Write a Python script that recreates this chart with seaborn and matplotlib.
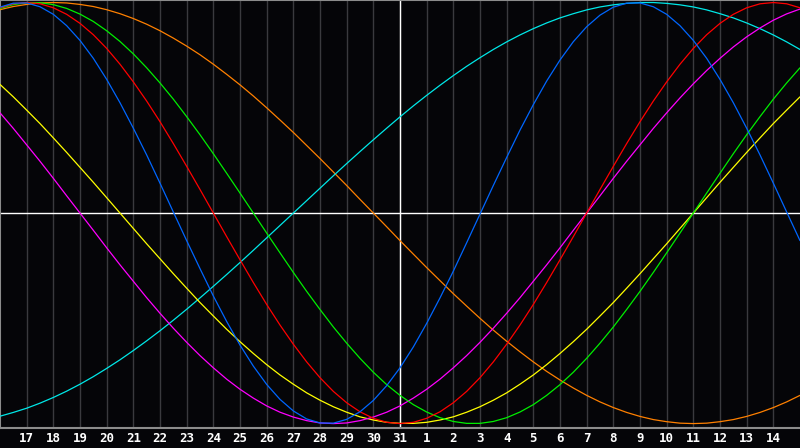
import numpy as np
import pandas as pd
import matplotlib
matplotlib.use('Agg')
import matplotlib.pyplot as plt
import seaborn as sns

# half-day steps around the centre day (31), from -15 to +15 days
offsets = np.linspace(-15, 15, 61)
label_pos = list(range(-14, 15))
day_labels = ['17', '18', '19', '20', '21', '22', '23', '24', '25', '26', '27', '28', '29', '30',
              '31', '1', '2', '3', '4', '5', '6', '7', '8', '9', '10', '11', '12', '13', '14']

# values every half day (-1 .. 1)
physical = [0.978, 0.997, 0.998, 0.980, 0.944, 0.890, 0.820, 0.735, 0.635, 0.524, 0.403, 0.276, 0.142, 0.005,
            -0.131, -0.264, -0.394, -0.515, -0.627, -0.727, -0.814, -0.885, -0.940, -0.978, -0.997, -0.998,
            -0.980, -0.944, -0.890, -0.820, -0.735, -0.636, -0.524, -0.403, -0.276, -0.141, -0.005, 0.131,
            0.264, 0.394, 0.515, 0.627, 0.727, 0.814, 0.885, 0.940, 0.978, 0.997, 0.998, 0.980, 0.944, 0.890,
            0.820, 0.735, 0.635, 0.524, 0.403, 0.276, 0.142, 0.005, -0.131]
emotional = [0.975, 0.994, 1.000, 0.994, 0.975, 0.944, 0.901, 0.847, 0.782, 0.707, 0.623, 0.532, 0.434, 0.330,
             0.222, 0.112, 0.000, -0.112, -0.222, -0.330, -0.434, -0.532, -0.623, -0.707, -0.782, -0.847, -0.901,
             -0.944, -0.975, -0.994, -1.000, -0.994, -0.975, -0.944, -0.901, -0.847, -0.782, -0.707, -0.623,
             -0.532, -0.434, -0.330, -0.222, -0.112, 0.000, 0.112, 0.222, 0.330, 0.434, 0.532, 0.623, 0.707,
             0.782, 0.847, 0.901, 0.944, 0.975, 0.994, 1.000, 0.994, 0.975]
intellectual = [0.972, 0.990, 0.999, 0.999, 0.990, 0.972, 0.945, 0.910, 0.866, 0.815, 0.756, 0.690, 0.618, 0.541,
                0.458, 0.372, 0.282, 0.189, 0.095, 0.000, -0.095, -0.189, -0.282, -0.372, -0.458, -0.541, -0.618,
                -0.690, -0.756, -0.815, -0.866, -0.910, -0.945, -0.972, -0.990, -0.999, -0.999, -0.990, -0.972,
                -0.945, -0.910, -0.866, -0.815, -0.756, -0.690, -0.618, -0.541, -0.458, -0.372, -0.282, -0.189,
                -0.095, 0.000, 0.095, 0.189, 0.282, 0.372, 0.458, 0.541, 0.618, 0.690]
awareness = [0.966, 0.981, 0.991, 0.998, 1.000, 0.998, 0.991, 0.981, 0.966, 0.947, 0.924, 0.897, 0.866, 0.831,
             0.793, 0.752, 0.707, 0.659, 0.609, 0.556, 0.500, 0.442, 0.383, 0.321, 0.259, 0.195, 0.131, 0.065,
             0.000, -0.065, -0.131, -0.195, -0.259, -0.321, -0.383, -0.442, -0.500, -0.556, -0.609, -0.659,
             -0.707, -0.752, -0.793, -0.831, -0.866, -0.897, -0.924, -0.947, -0.966, -0.981, -0.991, -0.998,
             -1.000, -0.998, -0.991, -0.981, -0.966, -0.947, -0.924, -0.897, -0.866]
spiritual = [-0.965, -0.947, -0.927, -0.903, -0.876, -0.846, -0.813, -0.777, -0.738, -0.697, -0.653, -0.607,
             -0.559, -0.509, -0.457, -0.403, -0.348, -0.292, -0.235, -0.177, -0.118, -0.059, 0.000, 0.059, 0.118,
             0.177, 0.235, 0.292, 0.348, 0.403, 0.457, 0.509, 0.559, 0.607, 0.653, 0.697, 0.738, 0.777, 0.813,
             0.846, 0.876, 0.903, 0.927, 0.947, 0.965, 0.979, 0.989, 0.996, 1.000, 1.000, 0.996, 0.989, 0.979,
             0.965, 0.947, 0.927, 0.903, 0.876, 0.846, 0.813, 0.777]
aesthetic = [0.611, 0.552, 0.489, 0.425, 0.357, 0.288, 0.217, 0.146, 0.073, 0.000, -0.073, -0.146, -0.217, -0.288,
             -0.357, -0.425, -0.489, -0.552, -0.611, -0.667, -0.720, -0.769, -0.813, -0.854, -0.889, -0.920,
             -0.946, -0.968, -0.983, -0.994, -0.999, -0.999, -0.994, -0.983, -0.968, -0.946, -0.920, -0.889,
             -0.854, -0.813, -0.769, -0.720, -0.667, -0.611, -0.552, -0.489, -0.425, -0.357, -0.288, -0.217,
             -0.146, -0.073, 0.000, 0.073, 0.146, 0.217, 0.288, 0.357, 0.425, 0.489, 0.552]
intuitive = [0.476, 0.402, 0.324, 0.246, 0.165, 0.082, 0.000, -0.082, -0.165, -0.246, -0.324, -0.402, -0.476,
             -0.547, -0.614, -0.677, -0.735, -0.789, -0.837, -0.879, -0.916, -0.946, -0.969, -0.986, -0.997,
             -1.000, -0.997, -0.986, -0.969, -0.946, -0.916, -0.879, -0.837, -0.789, -0.735, -0.677, -0.614,
             -0.547, -0.476, -0.402, -0.324, -0.246, -0.165, -0.082, 0.000, 0.082, 0.165, 0.246, 0.324, 0.402,
             0.476, 0.547, 0.614, 0.677, 0.735, 0.789, 0.837, 0.879, 0.916, 0.946, 0.969]

series = [
    (awareness, '#ff8000'),
    (spiritual, '#00e8e8'),
    (aesthetic, '#ffff00'),
    (intuitive, '#ff00ff'),
    (intellectual, '#00ee00'),
    (emotional, '#ff0000'),
    (physical, '#0066ff'),
]

sns.set_style('dark')
bg = '#050508'
fig = plt.figure(figsize=(8, 4.48), dpi=100, facecolor=bg)
ax = fig.add_axes([0, 20 / 448, 1, 428 / 448])
ax.set_facecolor(bg)

for vals, col in series:
    df = pd.DataFrame({'day': offsets, 'value': vals})
    sns.lineplot(data=df, x='day', y='value', color=col, linewidth=0.9, ax=ax, zorder=3)

ax.axhline(0, color='white', linewidth=1, zorder=2)
ax.axvline(0, color='white', linewidth=1, zorder=2)

ax.set_xticks(label_pos)
ax.set_xticklabels(day_labels, color='white', fontsize=9, fontweight='bold', family='DejaVu Sans Mono')
ax.set_yticks([])
ax.tick_params(axis='x', length=0, pad=3)
ax.grid(axis='x', color='#3a3a3e', linewidth=1, zorder=1)
ax.grid(axis='y', visible=False)
ax.set_xlabel('')
ax.set_ylabel('')
ax.set_xlim(offsets[0], offsets[-1])
ax.set_ylim(-1.021, 1.012)

for side in ['left', 'top', 'bottom']:
    ax.spines[side].set_visible(True)
    ax.spines[side].set_color('#8c8c8c')
    ax.spines[side].set_linewidth(1.5)
ax.spines['right'].set_visible(False)

fig.savefig('out.png', dpi=100, facecolor=bg)
